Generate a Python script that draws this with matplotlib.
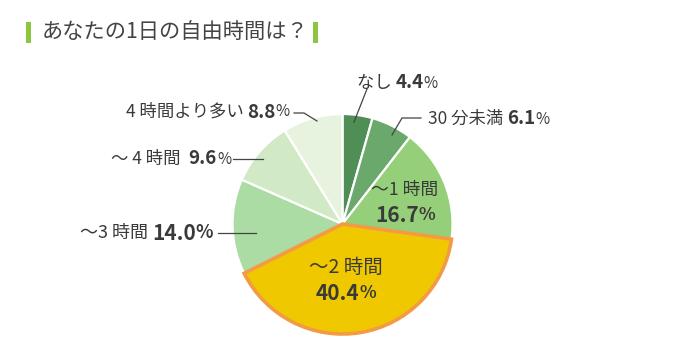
import matplotlib
matplotlib.use("Agg")
import matplotlib.pyplot as plt

plt.rcParams['font.family'] = ['Noto Sans CJK JP', 'DejaVu Sans']

title = "あなたの1日の自由時間は？"
categories = ["なし", "30 分未満", "～1 時間", "～2 時間", "～3 時間", "～ 4 時間 ", "4 時間より多い"]
values = [4.4, 6.1, 16.7, 40.4, 14.0, 9.6, 8.8]
value_labels = ["4.4", "6.1", "16.7", "40.4", "14.0", "9.6", "8.8"]
colors = ["#4f8f55", "#6aa86b", "#95cf7a", "#efc800", "#abdca3", "#d2e9c5", "#e8f3df"]

TXT = "#3a3a3a"
W, H = 680, 354
fig = plt.figure(figsize=(W / 100, H / 100), dpi=100)
ax = fig.add_axes([0, 0, 1, 1])

def Y(y):
    return H - y

cx, cy, r = 342.5, Y(224), 110
wedges, _ = ax.pie(values, colors=colors, startangle=90, counterclock=False,
                   center=(cx, cy), radius=r,
                   wedgeprops=dict(edgecolor="white", linewidth=1.6))
wedges[3].set_edgecolor("#f39a45")
wedges[3].set_linewidth(2.6)
wedges[3].set_zorder(5)
ax.set_xlim(0, W)
ax.set_ylim(0, H)
ax.set_aspect('equal')
ax.axis('off')

renderer = fig.canvas.get_renderer()

def seq(pieces, x, y, anchor="left"):
    """pieces: list of (text, size, weight)"""
    arts = []
    widths = []
    for s, size, wt in pieces:
        t = ax.text(0, Y(y), s, fontsize=size, fontweight=wt, color=TXT,
                    ha="left", va="center", zorder=10)
        bb = t.get_window_extent(renderer)
        arts.append(t)
        widths.append(bb.width)
    total = sum(widths)
    pos = x if anchor == "left" else (x - total if anchor == "right" else x - total / 2)
    for t, w in zip(arts, widths):
        t.set_x(pos)
        pos += w

# Title
ax.text(42, Y(32), title, fontsize=15.3, color="#444444", ha="left", va="center")
for bx in (26, 313):
    ax.add_patch(plt.Rectangle((bx, Y(43)), 5, 21, color="#8cc63e", lw=0))

fs_cat, fs_val, fs_pct = 12.5, 13.5, 11

# なし
seq([(categories[0] + " ", fs_cat, "normal"), (value_labels[0], fs_val, "bold"), ("%", fs_pct, "normal")], 357, 83)
ax.plot([354, 367], [Y(122), Y(89)], color="#444444", lw=0.9)
# 30分未満
seq([(categories[1] + " ", fs_cat, "normal"), (value_labels[1], fs_val, "bold"), ("%", fs_pct, "normal")], 428, 119)
ax.plot([392, 402, 421], [Y(135), Y(118), Y(118)], color="#444444", lw=0.9)
# ~1時間 inside
seq([(categories[2], 12.8, "normal")], 405, 190, anchor="center")
seq([(value_labels[2], 15, "bold"), ("%", 12.5, "bold")], 405, 215, anchor="center")
# ~2時間 inside
seq([(categories[3], 14, "normal")], 346, 267, anchor="center")
seq([(value_labels[3], 15, "bold"), ("%", 12.5, "bold")], 346, 293, anchor="center")
# ~3時間
seq([(categories[4] + " ", fs_cat + 0.5, "normal"), (value_labels[4], 15, "bold"), ("%", 13, "bold")], 213, 233, anchor="right")
ax.plot([218, 256], [Y(233), Y(233)], color="#444444", lw=0.9)
# ~4時間
seq([(categories[5] + " ", fs_cat, "normal"), (value_labels[5], fs_val, "bold"), ("%", fs_pct, "normal")], 231, 159, anchor="right")
ax.plot([233, 263], [Y(159), Y(159)], color="#444444", lw=0.9)
# 4時間より多い
seq([(categories[6] + " ", fs_cat, "normal"), (value_labels[6], fs_val, "bold"), ("%", fs_pct, "normal")], 290, 112, anchor="right")
ax.plot([294, 304, 317], [Y(113), Y(113), Y(121)], color="#444444", lw=0.9)

fig.savefig("out.png", dpi=100, facecolor="white")
